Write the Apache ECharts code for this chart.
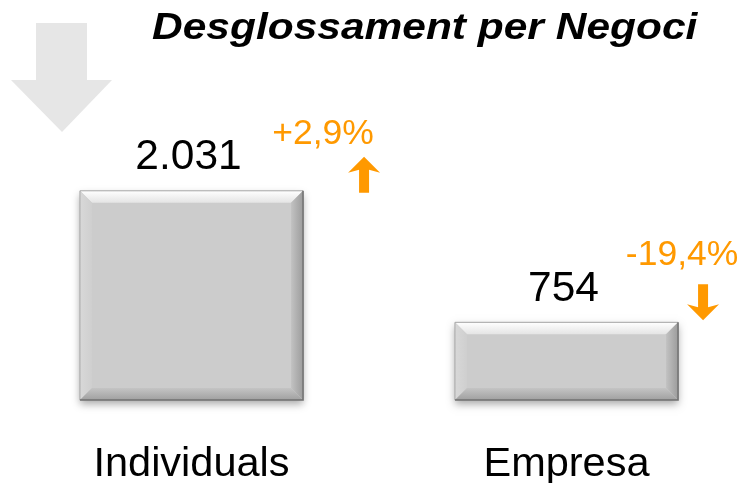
<!DOCTYPE html>
<html>
<head>
<meta charset="utf-8">
<script src="https://cdn.jsdelivr.net/npm/echarts@6/dist/echarts.min.js"></script>
<style>
  html, body { margin: 0; padding: 0; background: #fff; }
  #chart { width: 745px; height: 483px; }
</style>
</head>
<body>
<div id="chart"></div>
<script>
// dades del gràfic
const categories = ['Individuals', 'Empresa']
const values = [2031, 754]
const valueLabels = ['2.031', '754']
const changes = ['+2,9%', '-19,4%']
const changeDirs = [1, -1]

const ORANGE = '#ff9900'
const FONT = '"Liberation Sans", Arial, Helvetica, sans-serif'

// desplaçament de l'anotació (% i fletxa) respecte a la cantonada superior dreta de la barra
const noteOffset = [
    { tx: 20, ty: -39, ax: 61, ay: -16 },
    { tx: 4, ty: -49, ax: 25, ay: -20 }
]

// barra amb bisell
const renderBar = (params, api) => {
    const i = params.dataIndex
    const top = api.coord([api.value(0), api.value(1)])
    const base = api.coord([api.value(0), 0])
    const w = api.size([1, 0])[0] * 0.595
    const x0 = top[0] - w / 2, x1 = top[0] + w / 2
    const y0 = top[1], y1 = base[1]
    const b = 12
    const lin = (c) => ({ type: 'linear', x: 0, y: 0, x2: c[0], y2: c[1], colorStops: c[2] })
    const children = [
        { type: 'rect', shape: { x: x0, y: y0, width: w, height: y1 - y0 },
          style: { fill: '#cccccc', shadowBlur: 8, shadowOffsetY: 4, shadowColor: 'rgba(0,0,0,0.35)' } },
        { type: 'polygon', shape: { points: [[x0, y0], [x1, y0], [x1 - b, y0 + b], [x0 + b, y0 + b]] },
          style: { fill: lin([0, 1, [{ offset: 0, color: '#ffffff' }, { offset: 1, color: '#e4e4e4' }]]) } },
        { type: 'polygon', shape: { points: [[x0, y0], [x0 + b, y0 + b], [x0 + b, y1 - b], [x0, y1]] },
          style: { fill: lin([1, 0, [{ offset: 0, color: '#d8d8d8' }, { offset: 1, color: '#cfcfcf' }]]) } },
        { type: 'polygon', shape: { points: [[x1, y0], [x1 - b, y0 + b], [x1 - b, y1 - b], [x1, y1]] },
          style: { fill: lin([1, 0, [{ offset: 0, color: '#c2c2c2' }, { offset: 1, color: '#9c9c9c' }]]) } },
        { type: 'polygon', shape: { points: [[x0, y1], [x1, y1], [x1 - b, y1 - b], [x0 + b, y1 - b]] },
          style: { fill: lin([0, 1, [{ offset: 0, color: '#c4c4c4' }, { offset: 1, color: '#a0a0a0' }]]) } },
        { type: 'polyline', shape: { points: [[x0, y1], [x0, y0], [x1, y0]] },
          style: { stroke: '#a8a8a8', lineWidth: 1, fill: null } },
        { type: 'polyline', shape: { points: [[x1, y0], [x1, y1], [x0, y1]] },
          style: { stroke: '#707070', lineWidth: 1.5, fill: null } },
        { type: 'text', style: { x: top[0] - 3, y: y0 - 12, text: valueLabels[i], fill: '#000',
          font: '42.5px ' + FONT, align: 'center', verticalAlign: 'bottom' } }
    ]
    // anotació de variació
    const o = noteOffset[i]
    children.push({ type: 'text', style: { x: x1 + o.tx, y: y0 + o.ty, text: changes[i], fill: ORANGE,
        font: '35.5px ' + FONT, align: 'center', verticalAlign: 'bottom' } })
    const cx = x1 + o.ax, cy = y0 + o.ay, d = changeDirs[i]
    const hw = 16, sw = 5, hh = 16, len = 36
    const tip = cy - d * len / 2, end = cy + d * len / 2, neck = tip + d * hh
    children.push({ type: 'polygon', shape: { points: [
        [cx, tip], [cx + hw, neck], [cx + sw, neck - d * 3], [cx + sw, end],
        [cx - sw, end], [cx - sw, neck - d * 3], [cx - hw, neck]] },
        style: { fill: ORANGE } })
    return { type: 'group', children }
}

const myChart = echarts.init(document.getElementById('chart'))

const option = {
    animation: false,
    backgroundColor: '#fff',
    graphic: [{
        type: 'polygon',
        shape: { points: [[36, 23], [87, 23], [87, 80], [112, 80], [62, 132], [11, 80], [36, 80]] },
        style: { fill: '#e6e6e6' },
        z: -1
    }, {
        // títol (text una mica eixamplat com a l'original)
        type: 'text',
        x: 152,
        y: 11,
        scaleX: 1.18,
        style: {
            text: 'Desglossament per Negoci',
            font: 'italic bold 36px ' + FONT,
            fill: '#000',
            verticalAlign: 'top'
        }
    }],
    grid: { left: 4, width: 750, top: 91, height: 309, outerBoundsMode: 'none' },
    xAxis: {
        type: 'category',
        data: categories,
        axisLine: { show: false },
        axisTick: { show: false },
        axisLabel: { fontFamily: FONT, fontSize: 41.5, color: '#000', margin: 44, interval: 0 }
    },
    yAxis: {
        type: 'value',
        min: 0,
        max: 3000,
        show: false,
        splitLine: { show: false }
    },
    series: [{
        type: 'custom',
        renderItem: renderBar,
        data: values.map((v, i) => [i, v]),
        encode: { x: 0, y: 1 }
    }]
}

myChart.setOption(option)
</script>
</body>
</html>
